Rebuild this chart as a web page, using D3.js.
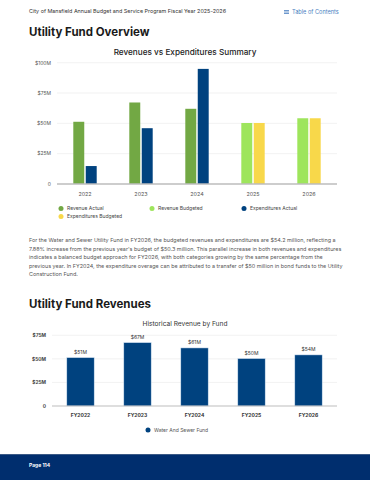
<!DOCTYPE html>
<html>
<head>
<meta charset="utf-8">
<script src="https://cdn.jsdelivr.net/npm/d3@7"></script>
<style>
  body { margin: 0; background: #fff; }
  svg { display: block; font-family: Inter, "Open Sans", sans-serif; }
</style>
</head>
<body>
<div id="page"></div>
<script>
// ---- data ----
var years = ["2022", "2023", "2024", "2025", "2026"];
var revenueVals = [51.3, 67.2, 62.0, 50.3, 54.2];
var expendVals = [14.8, 46.0, 94.9, 50.3, 54.2];
var isBudget = [false, false, false, true, true];
var summaryTicks = [0, 25, 50, 75, 100];
var summaryTickLabels = ["0", "$25M", "$50M", "$75M", "$100M"];

var fundYears = ["FY2022", "FY2023", "FY2024", "FY2025", "FY2026"];
var fundVals = [51.3, 67.2, 61.6, 50.3, 54.2];
var fundLabels = ["$51M", "$67M", "$61M", "$50M", "$54M"];
var fundTicks = [0, 25, 50, 75];
var fundTickLabels = ["0", "$25M", "$50M", "$75M"];

var legendItems = ["Revenue Actual", "Revenue Budgeted", "Expenditures Actual", "Expenditures Budgeted"];
var paragraph = [
  "For the Water and Sewer Utility Fund in FY2026, the budgeted revenues and expenditures are $54.2 million, reflecting a",
  "7.88% increase from the previous year's budget of $50.3 million. This parallel increase in both revenues and expenditures",
  "indicates a balanced budget approach for FY2026, with both categories growing by the same percentage from the",
  "previous year. In FY2024, the expenditure overage can be attributed to a transfer of $50 million in bond funds to the Utility",
  "Construction Fund."
];

var colors = {
  revActual: "#72a844",
  revBudget: "#9ee55c",
  expActual: "#00427f",
  expBudget: "#f8d84a",
  navy: "#002e6e"
};
var legendColors = [colors.revActual, colors.revBudget, colors.expActual, colors.expBudget];

var svg = d3.select("#page").append("svg")
    .attr("width", 370)
    .attr("height", 480);

// ---- page header ----
svg.append("text")
    .attr("x", 29).attr("y", 13)
    .style("font-size", "5.4px").style("fill", "#333")
    .text("City of Mansfield Annual Budget and Service Program Fiscal Year 2025-2026");

// table of contents icon
var toc = svg.append("g").attr("transform", "translate(284,10)");
[0, 1.6, 3.2].forEach(function (dy) {
  toc.append("rect").attr("x", 0).attr("y", dy).attr("width", 5).attr("height", 0.8).style("fill", "#4a7fc1");
});
svg.append("text")
    .attr("x", 292).attr("y", 13.5)
    .style("font-size", "5.6px").style("fill", "#4a7fc1")
    .text("Table of Contents");

svg.append("text")
    .attr("x", 29).attr("y", 36)
    .style("font-size", "11.5px").style("font-weight", "700").style("fill", "#1a1a1a")
    .text("Utility Fund Overview");

// ---- chart 1: revenues vs expenditures ----
svg.append("text")
    .attr("x", 185).attr("y", 55)
    .style("text-anchor", "middle")
    .style("font-size", "8.2px").style("font-weight", "500").style("fill", "#222")
    .text("Revenues vs Expenditures Summary");

var x1 = d3.scaleBand().domain(years).range([57, 337]);
var xSlot = d3.scaleBand().domain(["rev", "exp"]).range([-11.7, 11.7]).paddingInner(0.12);
var y1 = d3.scaleLinear().domain([0, 100]).range([184, 62.7]);

var c1 = svg.append("g");

c1.selectAll(".grid1")
    .data(summaryTicks.slice(1))
    .enter().append("line")
    .attr("x1", 57).attr("x2", 337)
    .attr("y1", function (d) { return y1(d); })
    .attr("y2", function (d) { return y1(d); })
    .style("stroke", "#ececec").style("stroke-width", 0.7);

c1.selectAll(".ylab1")
    .data(summaryTicks)
    .enter().append("text")
    .attr("x", 51)
    .attr("y", function (d) { return y1(d) + 1.8; })
    .style("text-anchor", "end")
    .style("font-size", "5px").style("fill", "#555")
    .text(function (d, i) { return summaryTickLabels[i]; });

var groups = c1.selectAll(".yr")
    .data(years)
    .enter().append("g")
    .attr("transform", function (d) { return "translate(" + (x1(d) + x1.bandwidth() / 2) + ",0)"; });

groups.append("rect")
    .attr("x", xSlot("rev"))
    .attr("width", xSlot.bandwidth())
    .attr("y", function (d, i) { return y1(revenueVals[i]); })
    .attr("height", function (d, i) { return y1(0) - y1(revenueVals[i]); })
    .style("fill", function (d, i) { return isBudget[i] ? colors.revBudget : colors.revActual; });

groups.append("rect")
    .attr("x", xSlot("exp"))
    .attr("width", xSlot.bandwidth())
    .attr("y", function (d, i) { return y1(expendVals[i]); })
    .attr("height", function (d, i) { return y1(0) - y1(expendVals[i]); })
    .style("fill", function (d, i) { return isBudget[i] ? colors.expBudget : colors.expActual; });

c1.append("line")
    .attr("x1", 57).attr("x2", 337)
    .attr("y1", y1(0)).attr("y2", y1(0))
    .style("stroke", "#bdbdbd").style("stroke-width", 1.3);

groups.append("text")
    .attr("y", 196)
    .style("text-anchor", "middle")
    .style("font-size", "5.4px").style("fill", "#555")
    .text(function (d) { return d; });

// legend
var legPos = [[61, 208.5], [152, 208.5], [244, 208.5], [61, 216.5]];
var leg1 = c1.selectAll(".leg1")
    .data(legendItems)
    .enter().append("g")
    .attr("transform", function (d, i) { return "translate(" + legPos[i][0] + "," + legPos[i][1] + ")"; });
leg1.append("circle").attr("r", 2.5).style("fill", function (d, i) { return legendColors[i]; });
leg1.append("text")
    .attr("x", 6).attr("y", 1.8)
    .style("font-size", "5px").style("fill", "#444")
    .text(function (d) { return d; });

// ---- paragraph ----
svg.selectAll(".para")
    .data(paragraph)
    .enter().append("text")
    .attr("x", 29)
    .attr("y", function (d, i) { return 242 + i * 8.6; })
    .style("font-size", "5.45px").style("fill", "#555")
    .text(function (d) { return d; });

svg.append("text")
    .attr("x", 29).attr("y", 308)
    .style("font-size", "11.5px").style("font-weight", "700").style("fill", "#1a1a1a")
    .text("Utility Fund Revenues");

// ---- chart 2: historical revenue by fund ----
svg.append("text")
    .attr("x", 185).attr("y", 326)
    .style("text-anchor", "middle")
    .style("font-size", "6.6px").style("fill", "#333")
    .text("Historical Revenue by Fund");

var x2 = d3.scaleBand().domain(fundYears).range([52, 337]).paddingInner(0.52).paddingOuter(0.26);
var y2 = d3.scaleLinear().domain([0, 75]).range([406, 335.3]);

var c2 = svg.append("g");

c2.selectAll(".grid2")
    .data(fundTicks.slice(1))
    .enter().append("line")
    .attr("x1", 52).attr("x2", 337)
    .attr("y1", function (d) { return y2(d); })
    .attr("y2", function (d) { return y2(d); })
    .style("stroke", "#ececec").style("stroke-width", 0.7);

c2.selectAll(".ylab2")
    .data(fundTicks)
    .enter().append("text")
    .attr("x", 46)
    .attr("y", function (d) { return y2(d) + 1.8; })
    .style("text-anchor", "end")
    .style("font-size", "4.8px").style("font-weight", "700").style("fill", "#444")
    .text(function (d, i) { return fundTickLabels[i]; });

c2.selectAll(".bar2")
    .data(fundVals)
    .enter().append("rect")
    .attr("x", function (d, i) { return x2(fundYears[i]); })
    .attr("width", x2.bandwidth())
    .attr("y", function (d) { return y2(d); })
    .attr("height", function (d) { return y2(0) - y2(d); })
    .style("fill", colors.expActual)
    .style("stroke", "#cfe0f2").style("stroke-width", 0.5);

c2.selectAll(".val2")
    .data(fundVals)
    .enter().append("text")
    .attr("x", function (d, i) { return x2(fundYears[i]) + x2.bandwidth() / 2; })
    .attr("y", function (d) { return y2(d) - 4; })
    .style("text-anchor", "middle")
    .style("font-size", "5px").style("fill", "#333")
    .text(function (d, i) { return fundLabels[i]; });

c2.append("line")
    .attr("x1", 52).attr("x2", 337)
    .attr("y1", y2(0)).attr("y2", y2(0))
    .style("stroke", "#bdbdbd").style("stroke-width", 1);

c2.selectAll(".xlab2")
    .data(fundYears)
    .enter().append("text")
    .attr("x", function (d) { return x2(d) + x2.bandwidth() / 2; })
    .attr("y", 417)
    .style("text-anchor", "middle")
    .style("font-size", "5px").style("font-weight", "700").style("fill", "#333")
    .text(function (d) { return d; });

var leg2 = c2.append("g").attr("transform", "translate(148,430)");
leg2.append("circle").attr("r", 2.5).style("fill", colors.expActual);
leg2.append("text")
    .attr("x", 6).attr("y", 1.8)
    .style("font-size", "5px").style("fill", "#555")
    .text("Water And Sewer Fund");

// ---- footer ----
svg.append("rect")
    .attr("x", 0).attr("y", 454)
    .attr("width", 370).attr("height", 26)
    .style("fill", colors.navy);
svg.append("rect")
    .attr("x", 0).attr("y", 454)
    .attr("width", 370).attr("height", 1)
    .style("fill", "#3b5a86");
svg.append("text")
    .attr("x", 29).attr("y", 467)
    .style("font-size", "5px").style("font-weight", "700").style("fill", "#fff")
    .text("Page 114");
</script>
</body>
</html>
